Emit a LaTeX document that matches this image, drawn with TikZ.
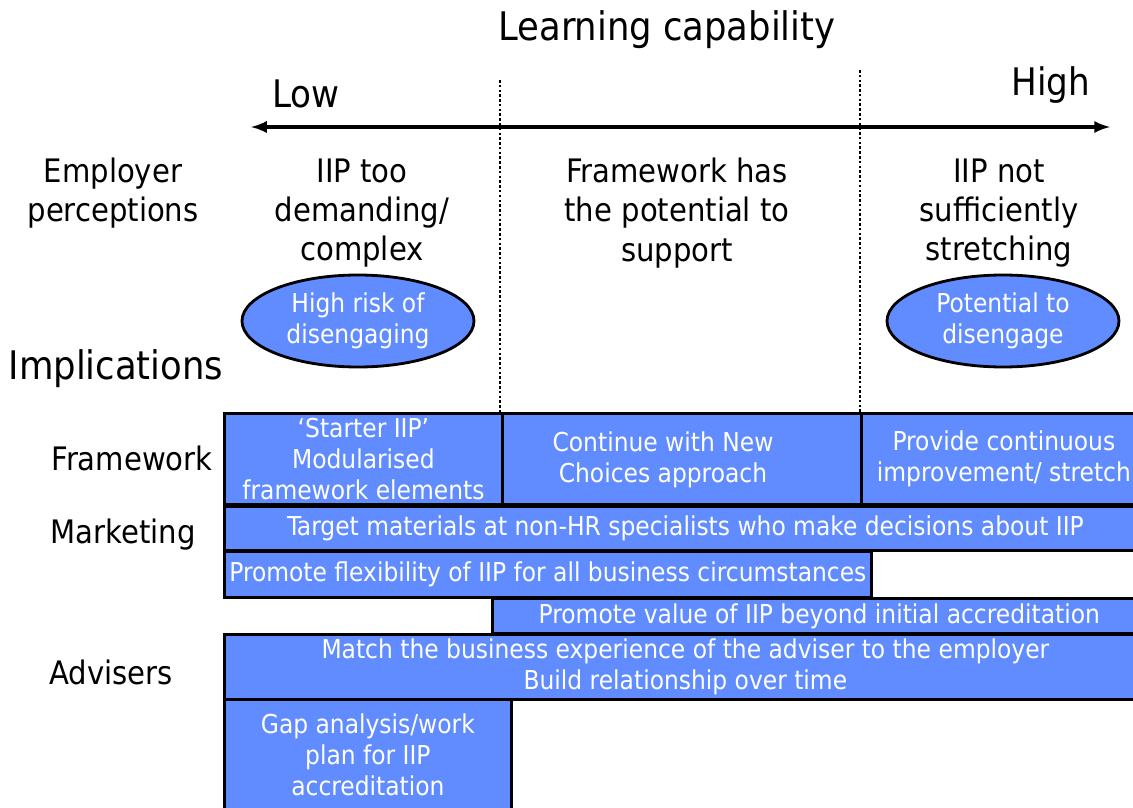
\documentclass[tikz,border=0pt]{standalone}
\usepackage{fontspec}
\setmainfont{DejaVu Sans Condensed}
\usepackage{xcolor}
\usetikzlibrary{shapes.geometric, positioning, calc}

\definecolor{boxblue}{RGB}{96,140,255}
\newlength{\px}
\setlength{\px}{0.025cm}

\tikzset{
  bigtxt/.style={font=\fontsize{23}{28}\selectfont, align=center},
  endtxt/.style={font=\fontsize{27}{32}\selectfont},
  headtxt/.style={font=\fontsize{28}{33}\selectfont},
  sepline/.style={line width=1.8pt, dash pattern=on 1.8pt off 1.6pt},
  blk/.style={draw=black, line width=2pt, fill=boxblue, text=white, align=center,
    font=\fontsize{18.5}{22}\selectfont, inner sep=0pt, anchor=north west},
  oval/.style={ellipse, draw=black, line width=2pt, fill=boxblue, text=white, align=center,
    font=\fontsize{18.5}{22}\selectfont, minimum width=232\px, minimum height=92\px, inner sep=0pt}
}

\begin{document}
\begin{tikzpicture}[x=1\px, y=-1\px]
				  \useasboundingbox (0,0) rectangle (1133,808);
				  % axis
				  \node[headtxt] (title) at (667,30) {Learning capability};
				  \node[endtxt] (low) at (306,94) {Low};
				  \node[endtxt] (high) at (1051,85) {High};
				  \coordinate (axl) at (251,127);
				  \coordinate (axr) at (1110,127);
				  \draw[line width=2.8pt, latex-latex] (axr) -- (axl);
				  \coordinate (d1t) at (500,80);
				  \coordinate (d1b) at (500,412);
				  \coordinate (d2t) at (860,70);
				  \coordinate (d2b) at (860,412);
				  \draw[sepline] (d1t) -- (d1b);
				  \draw[sepline] (d2t) -- (d2b);
				  % perceptions
				  \node[bigtxt] (emp) at (113,193) {Employer\\perceptions};
				  \node[bigtxt] (p1) at (362,213) {IIP too\\demanding/\\complex};
				  \node[bigtxt] (p2) at (677,213) {Framework has\\the potential to\\support};
				  \node[bigtxt] (p3) at (999,213) {IIP not\\sufficiently\\stretching};
				  \node[oval] (risk1) at (358,321) {High risk of\\disengaging};
				  \node[oval] (risk2) at (1003,321) {Potential to\\disengage};
				  % implications
				  \node[headtxt] (impl) at (116,369) {Implications};
				  \node[bigtxt] (lfw) at (132,458) {Framework};
				  \node[bigtxt] (lmk) at (123,535) {Marketing};
				  \node[bigtxt] (lad) at (111,672) {Advisers};
				  \node[blk, minimum width=278\px, minimum height=91\px] (fw1) at (223,412) {`Starter IIP'\\Modularised\\framework elements};
				  \node[blk, minimum width=359\px, minimum height=91\px] (fw2) at (501,412) {};
				  \node[font=\fontsize{18.5}{22}\selectfont, text=white, align=center] (fw2txt) at (663,460) {Continue with New\\Choices approach};
				  \node[blk, minimum width=285\px, minimum height=91\px] (fw3) at (860,412) {Provide continuous\\improvement/ stretch};
				  \node[blk, minimum width=922\px, minimum height=44\px] (mk1) at (223,505) {\raisebox{-2\px}{Target materials at non-HR specialists who make decisions about IIP}};
				  \node[blk, minimum width=647\px, minimum height=46\px] (mk2) at (223,550) {\raisebox{-2\px}{Promote flexibility of IIP for all business circumstances}};
				  \node[blk, minimum width=654\px, minimum height=35\px] (mk3) at (491,597) {Promote value of IIP beyond initial accreditation};
				  \node[blk, minimum width=922\px, minimum height=65\px] (ad1) at (223,633) {Match the business experience of the adviser to the employer\\Build relationship over time};
				  \node[blk, minimum width=287\px, minimum height=110\px] (ad2) at (223,698) {Gap analysis/work\\plan for IIP\\accreditation};
				\end{tikzpicture}
\end{document}
